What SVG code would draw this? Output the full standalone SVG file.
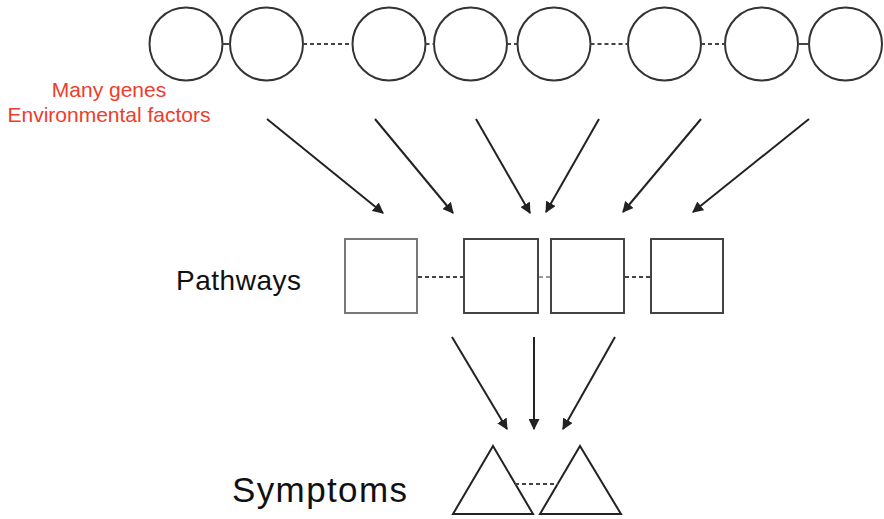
<svg xmlns="http://www.w3.org/2000/svg" width="884" height="519" viewBox="0 0 884 519">
<defs>
<style>
.c{fill:none;stroke:#333;stroke-width:2}
.sq{fill:none;stroke:#444;stroke-width:2}
.tri{fill:none;stroke:#222;stroke-width:2}
.link{stroke:#444;stroke-width:2;stroke-dasharray:4,3;fill:none}
.solid{stroke:#444;stroke-width:2;fill:none}
.arr{stroke:#222;stroke-width:2;fill:none;marker-end:url(#ah)}
.lbl{font-family:"Liberation Sans",Arial,sans-serif;fill:#111}
.red{font-family:"Liberation Sans",Arial,sans-serif;fill:#f03c2c;font-size:21px;text-anchor:middle}
</style>
<marker id="ah" viewBox="0 0 10 10" refX="9" refY="5" markerWidth="5.5" markerHeight="5.5" orient="auto" markerUnits="strokeWidth">
<path d="M0,0 L10,5 L0,10 z" fill="#222"/>
</marker>
</defs>
<rect width="884" height="519" fill="#fff"/>

<g id="genes">
<g id="gene1"><circle class="c" cx="186" cy="44" r="36.5"/></g>
<g id="gene2"><circle class="c" cx="266.5" cy="44" r="36.5"/></g>
<g id="gene3"><circle class="c" cx="389" cy="44" r="36.5"/></g>
<g id="gene4"><circle class="c" cx="470.5" cy="44" r="36.5"/></g>
<g id="gene5"><circle class="c" cx="554" cy="44" r="36.5"/></g>
<g id="gene6"><circle class="c" cx="664.5" cy="44" r="36.5"/></g>
<g id="gene7"><circle class="c" cx="761.5" cy="44" r="36.5"/></g>
<g id="gene8"><circle class="c" cx="845.5" cy="44" r="36.5"/></g>
</g>

<g id="label-genes">
<text class="red" x="109" y="97">Many genes</text>
<text class="red" x="109" y="122">Environmental factors</text>
</g>

<g id="pathways">
<g id="path1"><rect class="sq" x="345" y="239" width="72" height="74" style="stroke:#777"/></g>
<g id="path2"><rect class="sq" x="464" y="239" width="74" height="74"/></g>
<g id="path3"><rect class="sq" x="551" y="239" width="73" height="74"/></g>
<g id="path4"><rect class="sq" x="651" y="239" width="72" height="74"/></g>
</g>
<g id="label-pathways"><text class="lbl" x="176" y="290" font-size="28" textLength="125">Pathways</text></g>

<g id="symptoms">
<g id="sym1"><polygon class="tri" points="493,446 533,514 453,514"/></g>
<g id="sym2"><polygon class="tri" points="580,446 621,514 540,514"/></g>
</g>
<g id="label-symptoms"><text class="lbl" x="232" y="502" font-size="35" textLength="175">Symptoms</text></g>

<g id="connectors">
<line class="solid" x1="222.5" y1="44" x2="230" y2="44"/>
<line class="link" x1="303" y1="44" x2="352.5" y2="44"/>
<line class="link" x1="425.5" y1="44" x2="434" y2="44"/>
<line class="link" x1="507" y1="44" x2="517.5" y2="44"/>
<line class="link" x1="590.5" y1="44" x2="628" y2="44"/>
<line class="link" x1="701" y1="44" x2="725" y2="44"/>
<line class="solid" x1="798" y1="44" x2="809" y2="44"/>

<line class="link" x1="418" y1="277" x2="463" y2="277"/>
<line class="link" x1="539" y1="277" x2="550" y2="277" style="stroke:#999"/>
<line class="link" x1="625" y1="277" x2="650" y2="277"/>

<line class="link" x1="515" y1="484" x2="558" y2="484"/>

<line class="arr" x1="267" y1="119" x2="383" y2="213"/>
<line class="arr" x1="375" y1="119" x2="453" y2="213"/>
<line class="arr" x1="476" y1="119" x2="530" y2="213"/>
<line class="arr" x1="599" y1="119" x2="546" y2="212"/>
<line class="arr" x1="701" y1="119" x2="623" y2="212"/>
<line class="arr" x1="809" y1="119" x2="693" y2="212"/>

<line class="arr" x1="452" y1="337" x2="507" y2="429"/>
<line class="arr" x1="534" y1="337" x2="534" y2="429"/>
<line class="arr" x1="615" y1="337" x2="563" y2="429"/>
</g>
</svg>
